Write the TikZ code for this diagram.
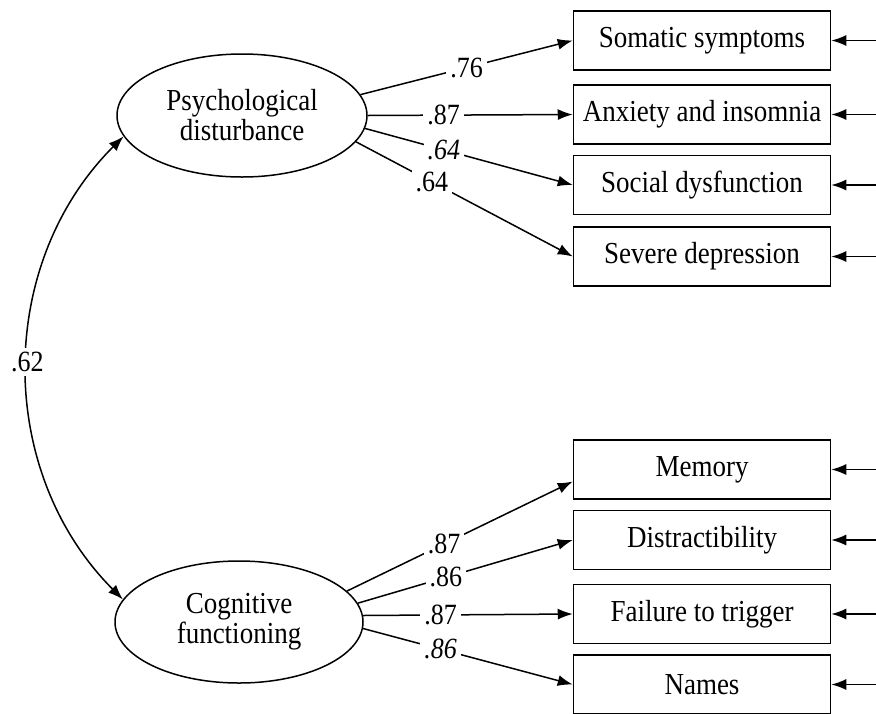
\documentclass[tikz,border=0pt]{standalone}
\usepackage{graphicx}
\usepackage{fontspec}
\setmainfont{Liberation Serif}
\usetikzlibrary{shapes.geometric,arrows.meta,calc}
\newcommand{\vst}[1]{\scalebox{1}[1.13]{#1}}
\begin{document}
\begin{tikzpicture}[x=1pt,y=-1pt, line width=1.5pt,
  latent/.style={draw, ellipse, minimum width=250pt, minimum height=123pt, inner sep=0pt, align=center, font=\fontsize{27}{32}\selectfont},
  obs/.style={draw, rectangle, minimum width=257pt, minimum height=59pt, inner sep=0pt, font=\fontsize{27}{32}\selectfont},
  arr/.style={-{Latex[length=15pt,width=11pt]}},
  lab/.style={fill=white, inner sep=4pt, font=\fontsize{26}{30}\selectfont}]
\useasboundingbox (0,0) rectangle (876,713);

\node[latent] (pd) at (242,115.5) {\vst{Psychological}\\[-2pt]\vst{disturbance}};
\node[latent, minimum width=248pt, minimum height=122pt] (cf) at (239,622) {\vst{Cognitive}\\[-2pt]\vst{functioning}};

\node[obs] (s1) at (702,40.5) {\vst{Somatic symptoms}};
\node[obs] (s2) at (702,114.5) {\vst{Anxiety and insomnia}};
\node[obs] (s3) at (702,185) {\vst{Social dysfunction}};
\node[obs] (s4) at (702,256.5) {\vst{Severe depression}};
\node[obs] (s5) at (702,469.5) {\vst{Memory}};
\node[obs] (s6) at (702,540) {\vst{Distractibility}};
\node[obs] (s7) at (702,614) {\vst{Failure to trigger}};
\node[obs] (s8) at (702,684.5) {\vst{Names}};

\coordinate (e1) at (876,40.5);
\coordinate (e2) at (876,114.5);
\coordinate (e3) at (876,185);
\coordinate (e4) at (876,256.5);
\coordinate (e5) at (876,469.5);
\coordinate (e6) at (876,540);
\coordinate (e7) at (876,614);
\coordinate (e8) at (876,684.5);
\foreach \i in {1,...,8} {\draw[arr] (e\i) -- (s\i.east);}

\draw[arr] (pd.10.9) -- node[lab,pos=.5]{\vst{.76}} (s1.west);
\draw[arr] (pd.0) -- node[lab,pos=.37]{\vst{.87}} (s2.west);
\draw[arr] (pd.-6.8) -- node[lab,pos=.38]{\vst{\textit{.64}}} (s3.west);
\draw[arr] (pd.-13.8) -- node[lab,pos=.35]{\vst{.64}} (s4.west);

\draw[arr] (cf.16.1) -- node[lab,pos=.43]{\vst{.87}} ($(s5.west)+(0,12)$);
\draw[arr] (cf.9.6) -- node[lab,pos=.41]{\vst{.86}} (s6.west);
\draw[arr] (cf.3.3) -- node[lab,pos=.37]{\vst{.87}} (s7.west);
\draw[arr] (cf.-3.7) -- node[lab,pos=.37]{\vst{\textit{.86}}} (s8.west);

\draw[{Latex[length=15pt,width=11pt]}-{Latex[length=15pt,width=11pt]}] (pd.190.4) to[bend right=45] node[lab,midway,yshift=6pt]{\vst{.62}} (cf.169.3);
\end{tikzpicture}
\end{document}
